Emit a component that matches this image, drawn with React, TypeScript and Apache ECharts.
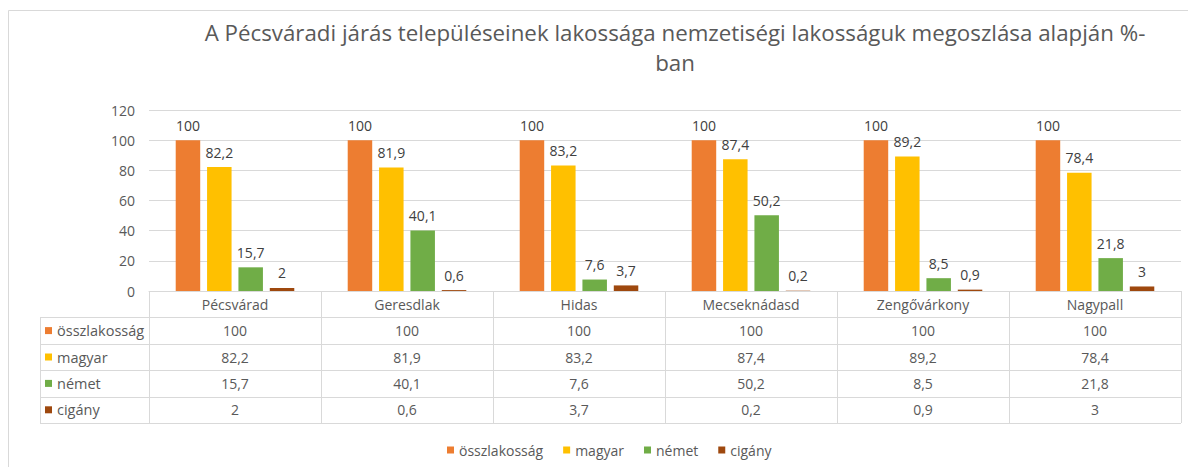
import React, { useEffect, useRef } from "react";
import * as echarts from "echarts";

const categories = ["Pécsvárad", "Geresdlak", "Hidas", "Mecseknádasd", "Zengővárkony", "Nagypall"];
const seriesNames = ["összlakosság", "magyar", "német", "cigány"];
const osszlakossag = [100, 100, 100, 100, 100, 100];
const magyar = [82.2, 81.9, 83.2, 87.4, 89.2, 78.4];
const nemet = [15.7, 40.1, 7.6, 50.2, 8.5, 21.8];
const cigany = [2, 0.6, 3.7, 0.2, 0.9, 3];
const seriesValues = [osszlakossag, magyar, nemet, cigany];
const colors = ["#ED7D31", "#FFC000", "#70AD47", "#9E480E"];
const titleLines = [
  "A Pécsváradi járás településeinek lakossága nemzetiségi lakosságuk megoszlása alapján %-",
  "ban",
];
const yMin = 0;
const yMax = 120;
const yInterval = 20;

const W = 1188;
const H = 467;
const FONT = "'Open Sans', Lato, sans-serif";
const FS = 14;
const GRID_LEFT = 149;
const GRID_RIGHT_X = 1181;
const GRID_TOP = 110;
const AXIS_Y = 291;
const ROW_H = 26.4;
const TABLE_LEFT = 40;
const TEXT = "#595959";
const LINE = "#d9d9d9";

const fmt = (v: number) => String(v).replace(".", ",");

export default function App() {
  const ref = useRef<HTMLDivElement>(null);
  useEffect(() => {
    if (!ref.current) return;
    const chart = echarts.init(ref.current, undefined, { renderer: "svg" });
    const nRows = seriesNames.length;
    const tableBottom = AXIS_Y + ROW_H * (nRows + 1);

    const graphic: any[] = [
      {
        type: "rect",
        shape: { x: 8.5, y: 10.5, width: 1400, height: 800 },
        style: { fill: "none", stroke: LINE, lineWidth: 1 },
        silent: true,
      },
      ...titleLines.map((t, i) => ({
        type: "text",
        x: 675,
        y: 32 + i * 30,
        style: {
          text: t,
          align: "center",
          verticalAlign: "middle",
          fill: TEXT,
          font: `22.3px ${FONT}`,
        },
      })),
    ];
    for (let k = 1; k <= nRows + 1; k++) {
      const y = Math.round(AXIS_Y + ROW_H * k) + 0.5;
      graphic.push({
        type: "line",
        shape: { x1: TABLE_LEFT, y1: y, x2: GRID_RIGHT_X, y2: y },
        style: { stroke: LINE, lineWidth: 1 },
        silent: true,
      });
    }
    graphic.push({
      type: "line",
      shape: {
        x1: TABLE_LEFT + 0.5,
        y1: Math.round(AXIS_Y + ROW_H) + 0.5,
        x2: TABLE_LEFT + 0.5,
        y2: Math.round(tableBottom) + 0.5,
      },
      style: { stroke: LINE, lineWidth: 1 },
      silent: true,
    });
    seriesNames.forEach((name, i) => {
      const cy = AXIS_Y + ROW_H * (i + 1) + ROW_H / 2;
      graphic.push({
        type: "rect",
        shape: { x: 45, y: cy - 3.5, width: 7, height: 7 },
        style: { fill: colors[i] },
      });
      graphic.push({
        type: "text",
        x: 57,
        y: cy,
        style: {
          text: name,
          align: "left",
          verticalAlign: "middle",
          fill: TEXT,
          font: `14.5px ${FONT}`,
        },
      });
    });

    chart.setOption({
      animation: false,
      textStyle: { fontFamily: FONT },
      color: colors,
      graphic,
      legend: {
        data: seriesNames,
        left: 442,
        top: 438,
        icon: "rect",
        itemWidth: 7,
        itemHeight: 7,
        itemGap: 20,
        textStyle: { color: TEXT, fontSize: FS, fontFamily: FONT },
      },
      grid: {
        left: GRID_LEFT,
        right: W - GRID_RIGHT_X,
        top: GRID_TOP,
        bottom: H - AXIS_Y,
        containLabel: false,
      },
      xAxis: {
        type: "category",
        data: categories,
        boundaryGap: true,
        axisLine: { show: true, lineStyle: { color: LINE } },
        axisTick: {
          show: true,
          interval: 0,
          length: Math.round(ROW_H * (nRows + 1)),
          lineStyle: { color: LINE },
        },
        axisLabel: {
          interval: 0,
          margin: 0,
          color: TEXT,
          fontSize: FS,
          fontFamily: FONT,
          lineHeight: ROW_H,
          formatter: (value: string, idx: number) =>
            [value, ...seriesValues.map((s) => fmt(s[idx]))].join("\n"),
        },
      },
      yAxis: {
        type: "value",
        min: yMin,
        max: yMax,
        interval: yInterval,
        axisLine: { show: false },
        axisTick: { show: false },
        axisLabel: { color: TEXT, fontSize: FS, fontFamily: FONT, margin: 14 },
        splitLine: { lineStyle: { color: LINE } },
      },
      series: seriesNames.map((name, i) => ({
        name,
        type: "bar",
        data: seriesValues[i],
        barWidth: 24.5,
        barGap: "28%",
        itemStyle: { color: colors[i] },
        label: {
          show: true,
          position: "top",
          distance: 8,
          color: "#404040",
          fontSize: FS,
          fontFamily: FONT,
          formatter: (p: any) => fmt(p.value),
        },
      })),
    });
    return () => chart.dispose();
  }, []);
  return (
    <div
      ref={ref}
      style={{ position: "absolute", left: 0, top: 0, width: W, height: H, background: "#fff" }}
    />
  );
}
